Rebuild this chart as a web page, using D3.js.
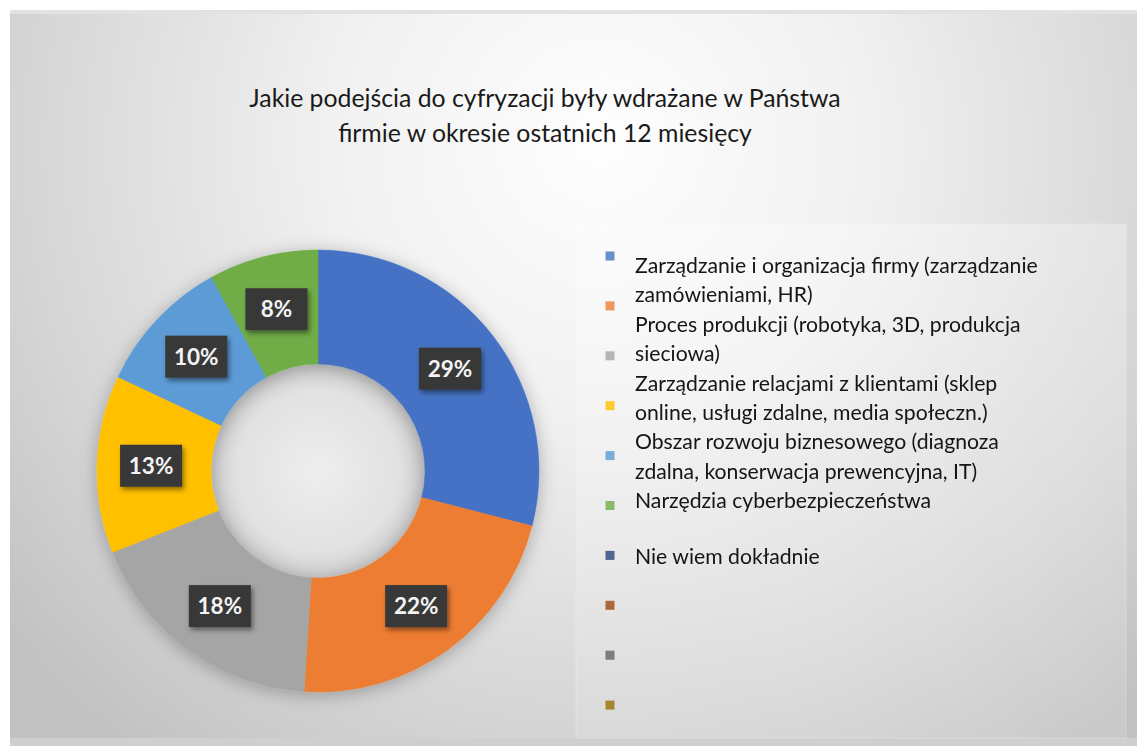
<!DOCTYPE html>
<html>
<head>
<meta charset="utf-8">
<script src="https://cdn.jsdelivr.net/npm/d3@7/dist/d3.min.js"></script>
<style>
  html, body { margin: 0; padding: 0; background: #ffffff; }
  svg { display: block; }
</style>
</head>
<body>
<svg id="chart" width="1137" height="746"></svg>
<script>
// ---- data ----
const titleLines = [
  "Jakie podejścia do cyfryzacji były wdrażane w Państwa",
  "firmie w okresie ostatnich 12 miesięcy"
];
const categories = [
  "Zarządzanie i organizacja firmy (zarządzanie zamówieniami, HR)",
  "Proces produkcji (robotyka, 3D, produkcja sieciowa)",
  "Zarządzanie relacjami z klientami (sklep online, usługi zdalne, media społeczn.)",
  "Obszar rozwoju biznesowego (diagnoza zdalna, konserwacja prewencyjna, IT)",
  "Narzędzia cyberbezpieczeństwa",
  "Nie wiem dokładnie",
  "", "", ""
];
// wrapped legend text, one array of lines per category
const legendLines = [
  ["Zarządzanie i organizacja firmy (zarządzanie", "zamówieniami, HR)"],
  ["Proces produkcji (robotyka, 3D, produkcja", "sieciowa)"],
  ["Zarządzanie relacjami z klientami (sklep", "online, usługi zdalne, media społeczn.)"],
  ["Obszar rozwoju biznesowego (diagnoza", "zdalna, konserwacja prewencyjna, IT)"],
  ["Narzędzia cyberbezpieczeństwa"],
  ["Nie wiem dokładnie"],
  [], [], []
];
// the ten legend swatches
const swatchColors = ["#4472c4", "#ed7d31", "#a5a5a5", "#ffc000", "#5b9bd5",
                      "#70ad47", "#264478", "#9e480e", "#636363", "#997300"];
const sliceNames = [
  "Zarządzanie i organizacja firmy",
  "Proces produkcji",
  "Zarządzanie relacjami z klientami",
  "Obszar rozwoju biznesowego",
  "Narzędzia cyberbezpieczeństwa",
  "Nie wiem dokładnie"
];
const sliceColors = ["#4472c4", "#ed7d31", "#a5a5a5", "#ffc000", "#5b9bd5", "#70ad47"];
const sliceValues = [29, 22, 18, 13, 10, 8];

// ---- setup ----
const svg = d3.select("#chart");
const W = 1137, H = 746;
const defs = svg.append("defs");

const bg = defs.append("radialGradient")
  .attr("id", "bg").attr("gradientUnits", "userSpaceOnUse")
  .attr("cx", 600).attr("cy", 150).attr("r", 760)
  .attr("fx", 600).attr("fy", 140);
bg.append("stop").attr("offset", 0).attr("stop-color", "#fefefe");
bg.append("stop").attr("offset", 0.35).attr("stop-color", "#f1f1f1");
bg.append("stop").attr("offset", 0.75).attr("stop-color", "#d6d6d6");
bg.append("stop").attr("offset", 1).attr("stop-color", "#c2c2c2");

const legBg = defs.append("linearGradient").attr("id", "legbg")
  .attr("x1", 0).attr("y1", 0).attr("x2", 0).attr("y2", 1);
legBg.append("stop").attr("offset", 0).attr("stop-color", "#ffffff").attr("stop-opacity", 0.3);
legBg.append("stop").attr("offset", 1).attr("stop-color", "#ffffff").attr("stop-opacity", 0.12);

const ringShadow = defs.append("filter").attr("id", "ringShadow")
  .attr("x", "-20%").attr("y", "-20%").attr("width", "140%").attr("height", "140%");
ringShadow.append("feDropShadow").attr("dx", 0).attr("dy", 3)
  .attr("stdDeviation", 9).attr("flood-color", "#000").attr("flood-opacity", 0.28);

// soft shading inside the donut hole
const holeGrad = defs.append("radialGradient").attr("id", "hole");
holeGrad.append("stop").attr("offset", 0).attr("stop-color", "#eeeeee");
holeGrad.append("stop").attr("offset", 0.75).attr("stop-color", "#e2e2e2");
holeGrad.append("stop").attr("offset", 1).attr("stop-color", "#cfcfcf");

const boxShadow = defs.append("filter").attr("id", "boxShadow")
  .attr("x", "-30%").attr("y", "-30%").attr("width", "170%").attr("height", "170%");
boxShadow.append("feDropShadow").attr("dx", 2).attr("dy", 3)
  .attr("stdDeviation", 2.5).attr("flood-color", "#000").attr("flood-opacity", 0.45);

const soft = defs.append("filter").attr("id", "soft");
soft.append("feGaussianBlur").attr("stdDeviation", 0.5);

// background
svg.append("rect").attr("width", W).attr("height", H).attr("fill", "#ffffff");
svg.append("rect").attr("x", 10).attr("y", 10).attr("width", W - 10).attr("height", H - 18)
  .attr("fill", "url(#bg)");
svg.append("rect").attr("x", 10).attr("y", 10).attr("width", W - 10).attr("height", 4)
  .attr("fill", "#e2e2e2");
svg.append("rect").attr("x", 10).attr("y", H - 8).attr("width", W - 10).attr("height", 8)
  .attr("fill", "#cfcfcf");

// legend panel
svg.append("rect").attr("x", 576).attr("y", 224).attr("width", 550).attr("height", 514)
  .attr("fill", "url(#legbg)").attr("stroke", "#ffffff").attr("stroke-opacity", 0.25);

// title
const fontFamily = "Lato, 'Open Sans', 'Liberation Sans', sans-serif";
svg.append("g").selectAll("text").data(titleLines).join("text")
  .attr("x", 545).attr("y", (d, i) => 107 + i * 35)
  .attr("text-anchor", "middle")
  .attr("font-family", fontFamily).attr("font-size", 24.8)
  .attr("fill", "#1a1a1a")
  .text(d => d);

// ---- donut ----
const cx = 318, cy = 471, rOuter = 221, rInner = 107, rLabel = 167;
const sliceData = sliceNames.map((n, i) => ({ name: n, value: sliceValues[i], color: sliceColors[i] }));
const pie = d3.pie().sort(null).value(d => d.value).startAngle(0).endAngle(2 * Math.PI);
const arcs = pie(sliceData);
const arc = d3.arc().innerRadius(rInner).outerRadius(rOuter);
const labelArc = d3.arc().innerRadius(rLabel).outerRadius(rLabel);
const total = d3.sum(sliceValues);

const donut = svg.append("g").attr("transform", `translate(${cx},${cy})`);
donut.append("circle").attr("r", rInner).attr("fill", "url(#hole)");
donut.append("g").attr("filter", "url(#ringShadow)")
  .selectAll("path").data(arcs).join("path")
  .attr("d", arc).attr("fill", d => d.data.color)
  .attr("stroke", d => d.data.color).attr("stroke-width", 0.5);

const labels = donut.append("g").selectAll("g").data(arcs).join("g")
  .attr("transform", d => `translate(${labelArc.centroid(d)})`);
labels.append("rect")
  .attr("x", -31).attr("y", -21).attr("width", 62).attr("height", 42)
  .attr("fill", "#383838").attr("filter", "url(#boxShadow)");
labels.append("text")
  .attr("text-anchor", "middle").attr("dy", "0.36em")
  .attr("font-family", fontFamily).attr("font-weight", 700).attr("font-size", 22.5)
  .attr("fill", "#f4f4f4")
  .text(d => Math.round(d.data.value / total * 100) + "%");

// ---- legend ----
const legend = svg.append("g").attr("filter", "url(#soft)");
const swX = 610, swY0 = 256, swStep = 49.9, sw = 9;
legend.selectAll("rect").data(swatchColors).join("rect")
  .attr("x", swX - sw / 2).attr("y", (d, i) => swY0 + i * swStep - sw / 2)
  .attr("width", sw).attr("height", sw)
  .attr("fill", d => d).attr("opacity", 0.8);

// the wrapped entries flow as one block; the remaining entries sit by their swatches
const textX = 635, flowTop = 273, lineH = 29.4;
const flowed = [], placed = [];
let k = 0;
legendLines.forEach((lines, i) => {
  if (i < 5) lines.forEach(l => { flowed.push({ text: l, y: flowTop + k * lineH }); k++; });
  else lines.forEach(l => placed.push({ text: l, y: swY0 + (i + 1) * swStep + 9 }));
});
legend.selectAll("text").data(flowed.concat(placed)).join("text")
  .attr("x", textX).attr("y", d => d.y)
  .attr("font-family", fontFamily).attr("font-size", 21.2)
  .attr("fill", "#141414")
  .text(d => d.text);
</script>
</body>
</html>
